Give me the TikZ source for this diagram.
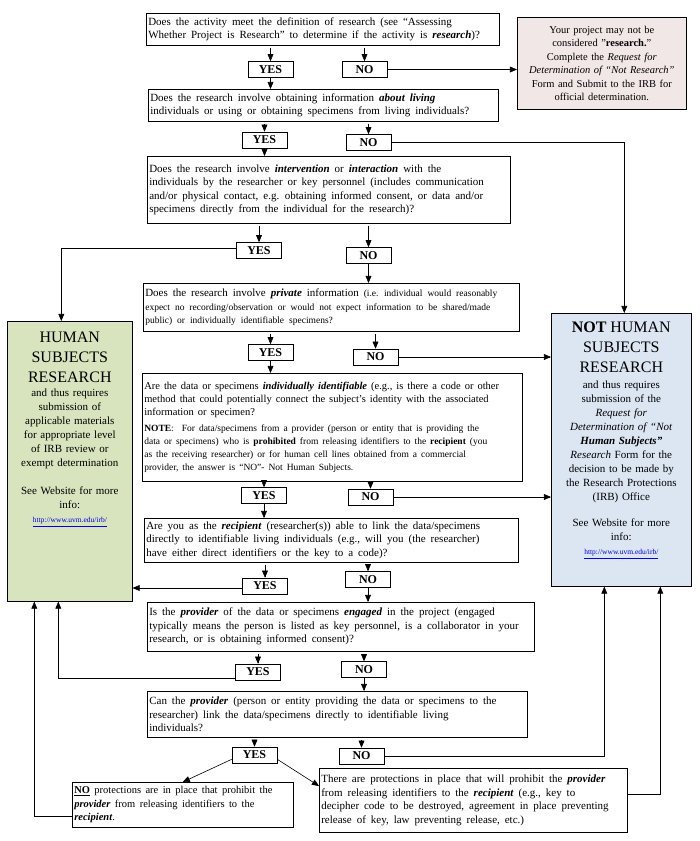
\documentclass[tikz,border=0pt]{standalone}
\usepackage{fontspec}
\setmainfont{Liberation Serif}
\usetikzlibrary{arrows}

\definecolor{notrespink}{RGB}{242,231,231}
\definecolor{hsrgreen}{RGB}{215,228,189}
\definecolor{nhsblue}{RGB}{220,230,242}
\definecolor{urlblue}{RGB}{0,0,230}

\newcommand{\bi}[1]{\textbf{\textit{#1}}}
\newcommand{\wsp}[1]{\spaceskip=#1em\relax}
\newcommand{\irburl}{{\fontsize{7.5}{9}\selectfont\color{urlblue}\underline{http://www.uvm.edu/irb/}}}

\tikzset{
	qbox/.style={draw,anchor=north west,align=left,inner xsep=2pt,inner ysep=1pt,font=\fontsize{11}{13.5}\selectfont,execute at begin node={\wsp{0.45}}},
	yn/.style={draw,minimum width=45pt,minimum height=16pt,inner sep=0pt,font=\fontsize{12}{12}\selectfont\bfseries},
	endbox/.style={draw,anchor=north west,inner sep=0pt},
	endtext/.style={anchor=north,align=center,inner sep=0pt,font=\fontsize{11}{14}\selectfont}
}

\begin{document}
\begin{tikzpicture}[>=triangle 45,x=1pt,y=-1pt,line width=0.6pt]
	\useasboundingbox (0,0) rectangle (700,841);

	\node[qbox,text width=349pt,minimum height=32pt] (q1) at (146,13) {Does the activity meet the definition of research (see “Assessing\\Whether Project is Research” to determine if the activity is \bi{research})?};
	\node[draw,fill=notrespink,anchor=north west,align=center,text width=165pt,minimum height=92pt,inner sep=2pt,font=\fontsize{10.5}{13.5}\selectfont] (notres) at (517,17) {Your project may not be\\considered "\textbf{research.}"\\Complete the \textit{Request for}\\\textit{Determination of “Not Research”}\\Form and Submit to the IRB for\\official determination.};
	\node[qbox,text width=346pt,minimum height=32pt] (q2) at (148,89) {Does the research involve obtaining information \bi{about living}\\individuals or using or obtaining specimens from living individuals?};
	\node[qbox,text width=359pt,minimum height=67pt] (q3) at (147,156) {Does the research involve \bi{intervention} or \bi{interaction} with the\\individuals by the researcher or key personnel (includes communication\\and/or physical contact, e.g. obtaining informed consent, or data and/or\\specimens directly from the individual for the research)?\par\vspace{10pt}};
	\node[qbox,text width=372pt,minimum height=48pt] (q4) at (143,283) {Does the research involve \bi{private} information {\fontsize{9.5}{13.5}\selectfont(i.e. individual would reasonably\\expect no recording/observation or would not expect information to be shared/made\\public) or individually identifiable specimens?}};
	\node[qbox,text width=376pt,minimum height=108pt] (q5) at (142,373) {\fontsize{10.5}{13}\selectfont\wsp{0.38}Are the data or specimens \bi{individually identifiable} (e.g., is there a code or other\\method that could potentially connect the subject’s identity with the associated\\information or specimen?\par\vspace{3pt}{\fontsize{9.5}{13}\selectfont\textbf{NOTE}:\ \ For data/specimens from a provider (person or entity that is providing the\\data or specimens) who is \textbf{prohibited} from releasing identifiers to the \textbf{recipient} (you\\as the receiving researcher) or for human cell lines obtained from a commercial\\provider, the answer is “NO”- Not Human Subjects.\par}\vspace{16pt}};
	\node[qbox,text width=370pt,minimum height=44pt] (q6) at (144,518) {Are you as the \bi{recipient} (researcher(s)) able to link the data/specimens\\directly to identifiable living individuals (e.g., will you (the researcher)\\have either direct identifiers or the key to a code)?};
	\node[qbox,text width=383pt,minimum height=49pt] (q7) at (147,602) {Is the \bi{provider} of the data or specimens \bi{engaged} in the project (engaged\\typically means the person is listed as key personnel, is a collaborator in your\\research, or is obtaining informed consent)?};
	\node[qbox,text width=376pt,minimum height=46pt] (q8) at (147,691) {Can the \bi{provider} (person or entity providing the data or specimens to the\\researcher) link the data/specimens directly to identifiable living\\individuals?};
	\node[qbox,text width=217pt,minimum height=45pt] (noprot) at (72,782) {\fontsize{10.5}{13.5}\selectfont\wsp{0.42}\underline{\textbf{NO}} protections are in place that prohibit the\\\bi{provider} from releasing identifiers to the\\\bi{recipient}.};
	\node[qbox,text width=304pt,minimum height=64pt] (there) at (319,768) {There are protections in place that will prohibit the \bi{provider}\\from releasing identifiers to the \bi{recipient} (e.g., key to\\decipher code to be destroyed, agreement in place preventing\\release of key, law preventing release, etc.)};

	\node[endbox,fill=hsrgreen,minimum width=125pt,minimum height=280pt] (hsr) at (7,321) {};
	\node[endtext,text width=122pt] (hsrtext) at ([yshift=-11pt]hsr.north) {{\fontsize{16}{20}\selectfont HUMAN\\SUBJECTS\\RESEARCH\par}and thus requires\\submission of\\applicable materials\\for appropriate level\\of IRB review or\\exempt determination\\[14pt]See Website for more\\info:\\\irburl};
	\node[endbox,fill=nhsblue,minimum width=140pt,minimum height=273pt] (nhs) at (551,313) {};
	\node[endtext,text width=136pt] (nhstext) at ([yshift=-9pt]nhs.north) {{\fontsize{16}{20}\selectfont\textbf{NOT} HUMAN\\SUBJECTS\\RESEARCH\par}\vspace{2pt}and thus requires\\submission of the\\\textit{Request for}\\\textit{Determination of “Not}\\\bi{Human Subjects”}\\\textit{Research} Form for the\\decision to be made by\\the Research Protections\\(IRB) Office\\[12pt]See Website for more\\info:\\\irburl};

	\foreach \name/\txt/\x/\y in {yes1/YES/270.5/69.5,no1/NO/364.5/69.5,yes2/YES/264.5/140,no2/NO/368.5/142.5,yes3/YES/259/250.5,no3/NO/368.5/255.5,yes4/YES/270.5/352.5,no4/NO/375.5/357,yes5/YES/264/495.5,no5/NO/370.5/497,yes6/YES/265/586,no6/NO/368/579.5,yes7/YES/258/672,no7/NO/364/669.5,yes8/YES/254.5/755,no8/NO/361.5/756}
		\node[yn] (\name) at (\x,\y) {\txt};

	\foreach \src/\dst in {q1/yes1,q1/no1,q2/yes2,q2/no2,q3/yes3,q3/no3,q4/yes4,q4/no4,q5/yes5,q5/no5,q6/yes6,q6/no6,q7/yes7,q7/no7,q8/yes8,q8/no8}
		\draw[->,shorten <=2pt] (\src.south -| \dst) -- (\dst);
	\foreach \src/\dst in {yes1/q2,yes2/q3,no3/q4,yes4/q5,yes5/q6,no6/q7,no7/q8}
		\draw[->] (\src) -- (\src |- \dst.north);

	\draw[->] (no1.east) -- (no1.east -| notres.west);
	\draw[->] (no2.east) -| ([xshift=3pt]nhs.north);
	\draw[->] (no4.east) -- (no4.east -| nhs.west);
	\draw[->] (no5.east) -- (no5.east -| nhs.west);
	\draw[->] (no8.east) -| ([xshift=-17pt]nhs.south);
	\draw[->] ([yshift=6pt]there.east) -| ([xshift=39pt]nhs.south);
	\draw[->] ([yshift=2pt]yes3.west) -| ([xshift=-8.5pt]hsr.north);
	\draw[->] ([yshift=-2pt]yes6.west) -- ([yshift=-2pt]yes6.west -| hsr.east);
	\draw[->] ([yshift=-6pt]yes7.west) -| ([xshift=-11.5pt]hsr.south);
	\draw[->] ([yshift=-11.5pt]noprot.west) -| ([xshift=-35.5pt]hsr.south);
	\draw[->] ([yshift=4pt]yes8.south west) -- (noprot.north);
	\draw[->] ([yshift=4pt]yes8.south east) -- ([yshift=-18pt]there.north west);
\end{tikzpicture}
\end{document}
